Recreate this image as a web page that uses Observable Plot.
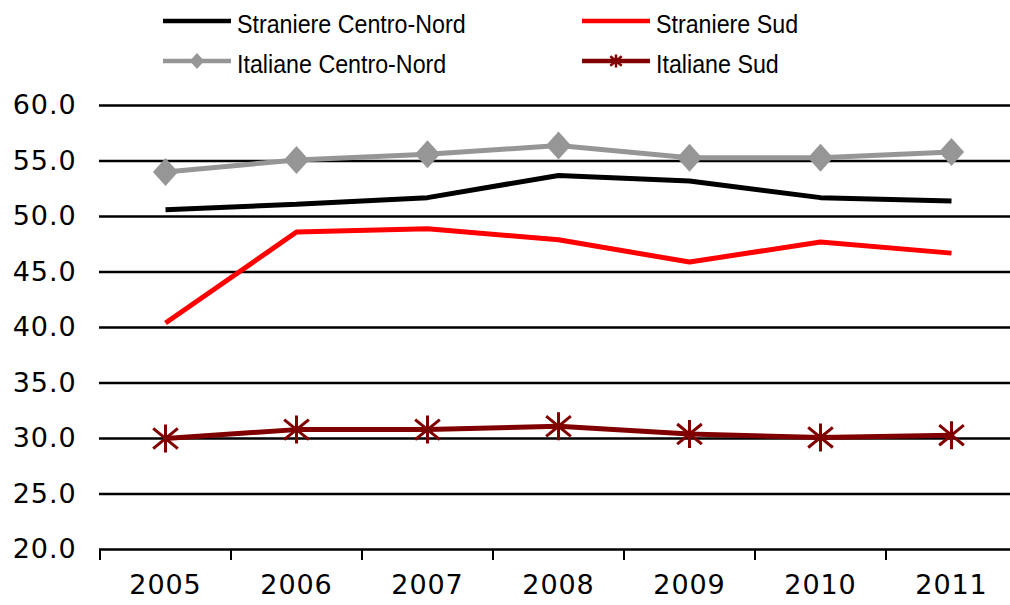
<!DOCTYPE html>
<html>
<head>
<meta charset="utf-8">
<script src="https://cdn.jsdelivr.net/npm/d3@7"></script>
<script src="https://cdn.jsdelivr.net/npm/@observablehq/plot@0.6"></script>
<style>
  html, body { margin: 0; padding: 0; background: #fff; }
  body { width: 1010px; height: 605px; overflow: hidden; }
  #legend svg, #chart svg { display: block; }
  #chart svg text { letter-spacing: 0.9px; }
</style>
</head>
<body>
<div id="legend"></div>
<div id="chart"></div>
<script>
// ---- Data ----
const years = [2005, 2006, 2007, 2008, 2009, 2010, 2011];
const straniereCentroNord = [50.6, 51.1, 51.7, 53.7, 53.2, 51.7, 51.4];
const straniereSud        = [40.4, 48.6, 48.9, 47.9, 45.9, 47.7, 46.7];
const italianeCentroNord  = [54.0, 55.1, 55.6, 56.4, 55.3, 55.3, 55.8];
const italianeSud         = [30.0, 30.8, 30.8, 31.1, 30.4, 30.1, 30.3];
const seriesNames  = ["Straniere Centro-Nord", "Straniere Sud", "Italiane Centro-Nord", "Italiane Sud"];
const seriesColors = ["#000000", "#ff0000", "#969696", "#800000"];
const seriesMarkers = ["none", "none", "diamond", "asterisk"];
const yTicks = [20, 25, 30, 35, 40, 45, 50, 55, 60];

const seriesValues = [straniereCentroNord, straniereSud, italianeCentroNord, italianeSud];
const data = seriesNames.flatMap((name, s) =>
  years.map((year, i) => ({ name, year, value: seriesValues[s][i], marker: seriesMarkers[s] })));
const boundaries = years.map(y => y - 0.5).concat([years[years.length - 1] + 0.5]);

// ---- custom symbols ----
const diamondSymbol = {
  draw(ctx, size) {
    const r = Math.sqrt(size / Math.PI);
    ctx.moveTo(0, -r); ctx.lineTo(r * 0.9, 0); ctx.lineTo(0, r); ctx.lineTo(-r * 0.9, 0); ctx.closePath();
  }
};
const asteriskSymbol = {
  draw(ctx, size) {
    const r = Math.sqrt(size / Math.PI);
    ctx.moveTo(0, -r); ctx.lineTo(0, r);
    ctx.moveTo(-0.88 * r, -0.72 * r); ctx.lineTo(0.88 * r, 0.72 * r);
    ctx.moveTo(-0.88 * r, 0.72 * r); ctx.lineTo(0.88 * r, -0.72 * r);
  }
};

// ---- Legend ----
const legend = d3.select("#legend").append("svg").attr("width", 1010).attr("height", 85);
const colX = [163, 582], rowY = [21, 61];
seriesNames.forEach((name, i) => {
  const x0 = colX[i % 2], y0 = rowY[Math.floor(i / 2)];
  const g = legend.append("g");
  g.append("line").attr("x1", x0).attr("x2", x0 + 68).attr("y1", y0).attr("y2", y0)
    .attr("stroke", seriesColors[i]).attr("stroke-width", 4.5);
  if (seriesMarkers[i] === "diamond") {
    const p = d3.path(); diamondSymbol.draw(p, Math.PI * 8 * 8);
    g.append("path").attr("d", p.toString()).attr("transform", `translate(${x0 + 34},${y0})`)
      .attr("fill", seriesColors[i]);
  } else if (seriesMarkers[i] === "asterisk") {
    const p = d3.path(); asteriskSymbol.draw(p, Math.PI * 6.5 * 6.5);
    g.append("path").attr("d", p.toString()).attr("transform", `translate(${x0 + 34},${y0})`)
      .attr("fill", "none").attr("stroke", seriesColors[i]).attr("stroke-width", 2.5);
  }
  g.append("text").attr("transform", `translate(${x0 + 74},${y0 + 12}) scale(0.93,1)`)
    .attr("font-family", "'Liberation Sans', Arial, sans-serif").attr("font-size", 25)
    .attr("fill", "#000").text(name);
});

// ---- Chart ----
const chart = Plot.plot({
  width: 1010,
  height: 520,
  marginTop: 20,
  marginBottom: 56,
  marginLeft: 99,
  marginRight: 0,
  style: { fontFamily: "'DejaVu Sans', Verdana, sans-serif", fontSize: "27px", color: "#000", background: "#fff", overflow: "hidden" },
  x: { type: "linear", domain: d3.extent(boundaries), range: [99.5, 1016.5] },
  y: { domain: [20, 60] },
  color: { domain: seriesNames, range: seriesColors },
  marks: [
    Plot.ruleY(yTicks, { stroke: "#000", strokeWidth: 2.5 }),
    Plot.axisY(yTicks, { tickSize: 0, tickPadding: 23, tickFormat: d3.format(".1f"), label: null }),
    Plot.axisX(boundaries, { tickSize: 11, tickFormat: () => "", strokeWidth: 2, label: null }),
    Plot.axisX(years, { tickSize: 0, tickPadding: 25, tickFormat: d => String(d), label: null }),
    Plot.line(data, { x: "year", y: "value", z: "name", stroke: "name", strokeWidth: 5, strokeLinecap: "butt", strokeLinejoin: "miter" }),
    Plot.dot(data.filter(d => d.marker === "diamond"), { x: "year", y: "value", symbol: diamondSymbol, r: 14, fill: "name", stroke: "none" }),
    Plot.dot(data.filter(d => d.marker === "asterisk"), { x: "year", y: "value", symbol: asteriskSymbol, r: 14, fill: "none", stroke: "name", strokeWidth: 3 })
  ]
});
document.getElementById("chart").appendChild(chart);
</script>
</body>
</html>
